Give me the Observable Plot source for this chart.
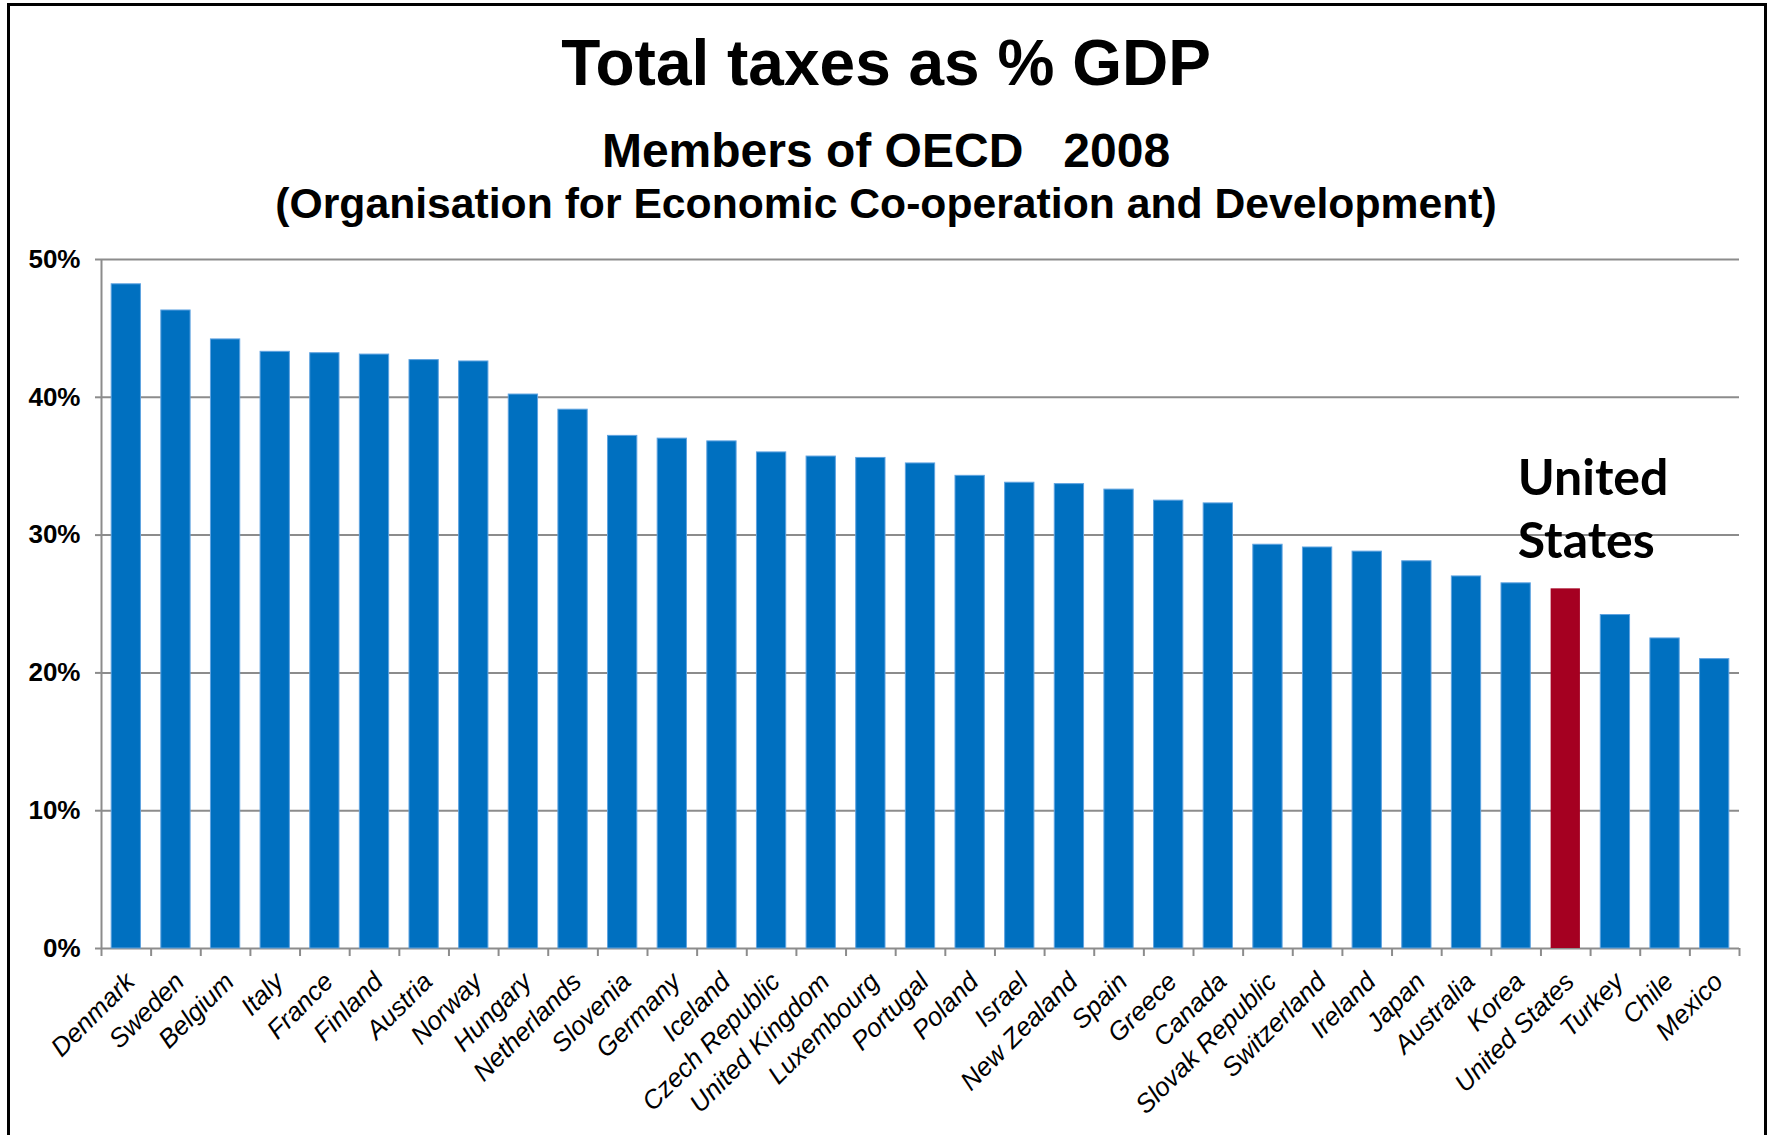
<!DOCTYPE html>
<html><head><meta charset="utf-8">
<script src="https://cdn.jsdelivr.net/npm/d3@7"></script>
<script src="https://cdn.jsdelivr.net/npm/@observablehq/plot@0.6"></script>
<style>
html,body{margin:0;padding:0;background:#fff;overflow:hidden;}
#page{position:relative;width:1772px;height:1135px;overflow:hidden;font-family:"Liberation Sans",Arial,sans-serif;background:#fff;}
#frame{position:absolute;left:7px;top:3px;width:1754px;height:1200px;border:3px solid #000;pointer-events:none;}
#titles{position:relative;height:225px;}
.t{position:absolute;left:0;width:1772px;text-align:center;font-weight:bold;color:#000;white-space:pre;}
#t1{top:31px;font-size:64px;line-height:64px;}
#t2{top:127px;font-size:48px;line-height:48px;}
#t3{top:182px;font-size:42.7px;line-height:42px;}
#chart svg{display:block;}
</style></head>
<body>
<div id="page">
  <div id="titles">
    <div class="t" id="t1">Total taxes as % GDP</div>
    <div class="t" id="t2">Members of OECD   2008</div>
    <div class="t" id="t3">(Organisation for Economic Co-operation and Development)</div>
  </div>
  <div id="chart"></div>
  <div id="frame"></div>
</div>
<script>
const countries = ["Denmark","Sweden","Belgium","Italy","France","Finland","Austria","Norway","Hungary","Netherlands","Slovenia","Germany","Iceland","Czech Republic","United Kingdom","Luxembourg","Portugal","Poland","Israel","New Zealand","Spain","Greece","Canada","Slovak Republic","Switzerland","Ireland","Japan","Australia","Korea","United States","Turkey","Chile","Mexico"];
const taxShare = [48.2,46.3,44.2,43.3,43.2,43.1,42.7,42.6,40.2,39.1,37.2,37.0,36.8,36.0,35.7,35.6,35.2,34.3,33.8,33.7,33.3,32.5,32.3,29.3,29.1,28.8,28.1,27.0,26.5,26.1,24.2,22.5,21.0];
const yTicks = [0,10,20,30,40,50];
const highlight = "United States";
const annotationText = "United\nStates";

const data = countries.map((c, i) => ({country: c, value: taxShare[i]}));
const W = 1772, H = 910;
const mL = 101, mR = 33, mT = 34, mB = 187;
const step = (W - mL - mR) / countries.length;
const grid = "#8c8c8c";
const blue = "#0070C0", red = "#A50021";

const chart = Plot.plot({
  width: W, height: H,
  marginLeft: mL, marginRight: mR, marginTop: mT, marginBottom: mB,
  style: {fontFamily: "Liberation Sans, Arial, sans-serif", background: "white", color: "#000", overflow: "visible"},
  x: {domain: countries, paddingInner: 0.41, paddingOuter: 0.205, round: false, label: null},
  y: {domain: [0, 50], label: null},
  marks: [
    Plot.ruleY(yTicks, {stroke: grid, strokeWidth: 2}),
    Plot.axisY({ticks: yTicks, tickSize: 6, tickPadding: 15, stroke: grid, strokeWidth: 2,
      tickFormat: d => d + "%", fontSize: 26, fontWeight: "bold", fill: "#000", label: null}),
    Plot.barY(data.filter(d => d.country !== highlight), {x: "country", y: "value", fill: blue, stroke: "#5fa3e0", strokeWidth: 1}),
    Plot.barY(data.filter(d => d.country === highlight), {x: "country", y: "value", fill: red}),
    Plot.ruleX([countries[0]], {dx: -step / 2, y1: 0, y2: 50, stroke: grid, strokeWidth: 2}),
    Plot.axisX({tickSize: 8, dx: -step / 2, stroke: grid, strokeWidth: 2, tickFormat: () => "", label: null}),
    Plot.axisX({ticks: [countries[countries.length - 1]], tickSize: 8, dx: step / 2, stroke: grid, strokeWidth: 2, tickFormat: () => "", label: null}),
    Plot.axisX({tickSize: 0, tickRotate: -45, tickPadding: 29, dx: 4, fontSize: 26, fontStyle: "italic", fill: "#000", label: null}),
    Plot.text(data.filter(d => d.country === highlight), {
      x: "country", y: "value", text: () => annotationText,
      textAnchor: "start", lineAnchor: "bottom", lineHeight: 1.26,
      dx: -48, dy: -31, fontSize: 50, fontWeight: "bold", fontFamily: "Lato, Carlito, sans-serif", fill: "#000"
    })
  ]
});
document.getElementById("chart").appendChild(chart);
</script>
</body></html>
